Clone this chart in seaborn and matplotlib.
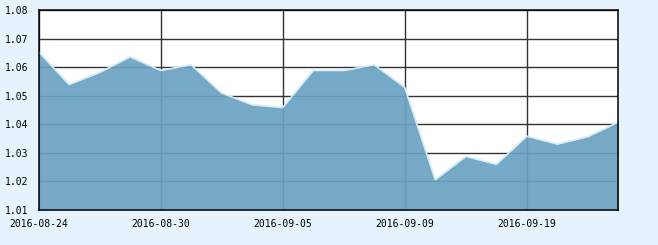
import matplotlib
matplotlib.use("Agg")
import matplotlib.pyplot as plt
import seaborn as sns
import pandas as pd
import numpy as np

dates = ["2016-08-24", "2016-08-25", "2016-08-26", "2016-08-29", "2016-08-30",
         "2016-08-31", "2016-09-01", "2016-09-02", "2016-09-05", "2016-09-06",
         "2016-09-07", "2016-09-08", "2016-09-09", "2016-09-12", "2016-09-13",
         "2016-09-14", "2016-09-19", "2016-09-20", "2016-09-21", "2016-09-22"]
values = [1.0655, 1.0540, 1.0582, 1.0637, 1.0589,
          1.0609, 1.0510, 1.0469, 1.0459, 1.0589,
          1.0589, 1.0609, 1.0530, 1.0206, 1.0288,
          1.0260, 1.0359, 1.0331, 1.0357, 1.0408]
tick_dates = ["2016-08-24", "2016-08-30", "2016-09-05", "2016-09-09", "2016-09-19"]
y_ticks = [1.01, 1.02, 1.03, 1.04, 1.05, 1.06, 1.07, 1.08]

df = pd.DataFrame({"date": dates, "value": values})
df["idx"] = np.arange(len(df))

sns.set_style("white")
plt.rcParams["font.family"] = ["DejaVu Sans Mono"]

fig = plt.figure(figsize=(6.58, 2.45), dpi=100)
fig.patch.set_facecolor("#e6f3fc")
ax = fig.add_axes([38.5/658, 1-210/245, (618.3-38.5)/658, (210-10.3)/245])
ax.set_facecolor("white")

ax.fill_between(df["idx"], df["value"], y_ticks[0], color="#6aa2c0", alpha=0.92,
                linewidth=0, zorder=3)
sns.lineplot(data=df, x="idx", y="value", ax=ax, color="#d6ebf7", linewidth=1.2, zorder=4)

tick_pos = [dates.index(d) for d in tick_dates]
ax.set_xticks(tick_pos)
ax.set_xticklabels(tick_dates)
ax.set_yticks(y_ticks)
ax.set_yticklabels([f"{v:.2f}" for v in y_ticks])
ax.set_xlim(0, len(dates) - 1)
ax.set_ylim(y_ticks[0], y_ticks[-1])
ax.grid(True, color="#333333", linewidth=1)
ax.set_axisbelow(True)
for g in ax.get_xgridlines() + ax.get_ygridlines():
    g.set_zorder(1)
ax.set_xlabel("")
ax.set_ylabel("")
for s in ax.spines.values():
    s.set_color("black")
    s.set_linewidth(1.1)
    s.set_zorder(5)
ax.tick_params(axis="both", direction="out", length=4, width=1, color="black",
               labelsize=7, labelcolor="black")
ax.tick_params(axis="y", pad=3.4)
ax.tick_params(axis="x", pad=2.5)

fig.savefig("out.png", dpi=100, facecolor=fig.get_facecolor())
